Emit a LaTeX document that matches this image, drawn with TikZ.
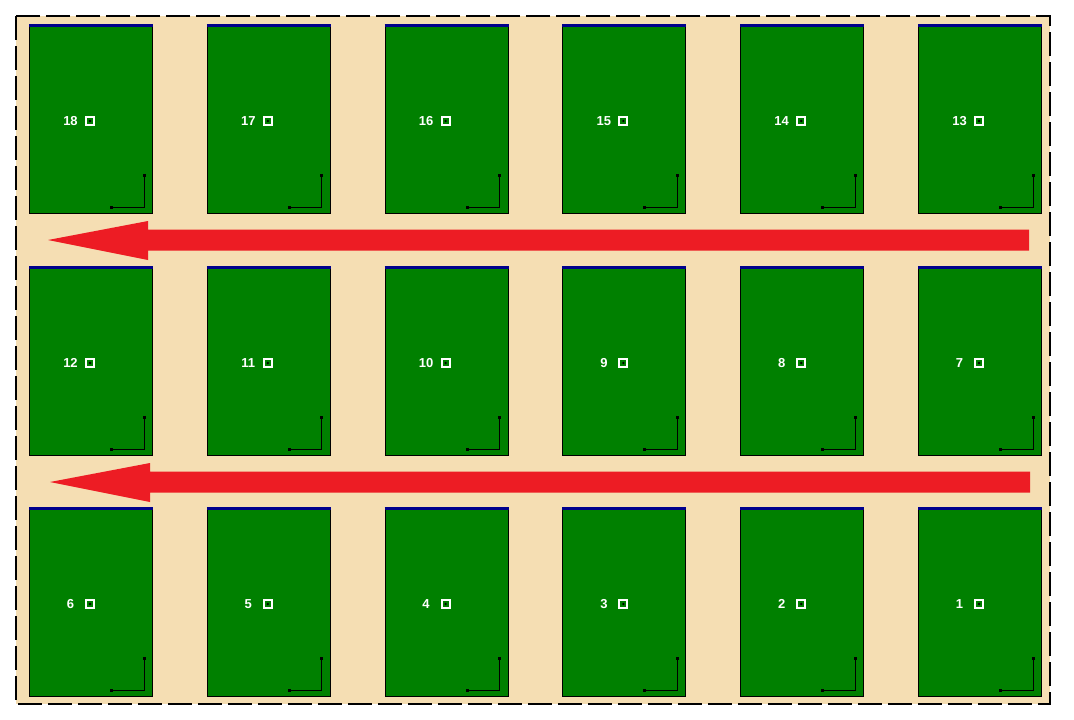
\documentclass[tikz,border=0pt]{standalone}
\usepackage{fontspec}
\setmainfont{Liberation Sans}
\usepackage{xcolor}
\usetikzlibrary{arrows.meta, positioning}
\definecolor{fieldwheat}{RGB}{245, 222, 179}
\definecolor{bedgreen}{RGB}{0, 128, 0}
\definecolor{barblue}{RGB}{0, 0, 140}
\definecolor{flowred}{RGB}{237, 28, 36}

\begin{document}
\begin{tikzpicture}[
    x=1pt, y=-1pt,
    field/.style={fill=fieldwheat, draw=black, line width=2pt, dash pattern=on 24pt off 6pt},
    bed/.style={draw=black, fill=bedgreen, line width=1pt, minimum width=123pt,
                minimum height=189pt, inner sep=0pt, anchor=north west},
    topbar/.style={draw=barblue, line width=3pt},
    bednum/.style={text=white, font=\bfseries\fontsize{13}{15}\selectfont, inner sep=0pt},
    marker/.style={draw=white, fill=bedgreen, line width=2pt, minimum size=8pt, inner sep=0pt},
    axis/.style={black, line width=1pt, {Square[length=3pt]}-{Square[length=3pt]}},
    flow/.style={fill=flowred, draw=none}
]
    \useasboundingbox (0,0) rectangle (1074,720);
    \draw[field] (16,16) rectangle (1050,704);

    % beds, numbered right to left, bottom row first
    \foreach \r/\y in {0/24, 1/266, 2/507} {
        \foreach \c in {0,...,5} {
            \pgfmathtruncatemacro{\n}{18-6*\r-\c}
            \node[bed] (bed\n) at ({29+177.8*\c},\y) {};
            \draw[topbar] ([yshift=-1.5pt]bed\n.north west) -- ([yshift=-1.5pt]bed\n.north east);
            \node[bednum] (num\n) at ([xshift=41.5pt, yshift=-97pt]bed\n.north west) {\n};
            \node[marker] (mark\n) at ([xshift=61pt, yshift=-97pt]bed\n.north west) {};
            \fill[black] (mark\n.center) circle (1.3pt);
            \coordinate (origin\n) at ([xshift=-9pt, yshift=7pt]bed\n.south east);
            \draw[axis] ([xshift=-34pt]origin\n) -- (origin\n) -- ([yshift=33pt]origin\n);
        }
    }

    % direction of travel
    \coordinate (upperstart) at (1029,240);
    \coordinate (upperend) at (48,240);
    \coordinate (lowerstart) at (1030,482);
    \coordinate (lowerend) at (50,482);
    \fill[flow] ([yshift=10.5pt]upperstart) -- (148,229.5) -- (148,221) -- (upperend)
        -- (148,260) -- (148,250.5) -- ([yshift=-10.5pt]upperstart) -- cycle;
    \fill[flow] ([yshift=10.5pt]lowerstart) -- (150,471.5) -- (150,463) -- (lowerend)
        -- (150,502) -- (150,492.5) -- ([yshift=-10.5pt]lowerstart) -- cycle;
\end{tikzpicture}
\end{document}
